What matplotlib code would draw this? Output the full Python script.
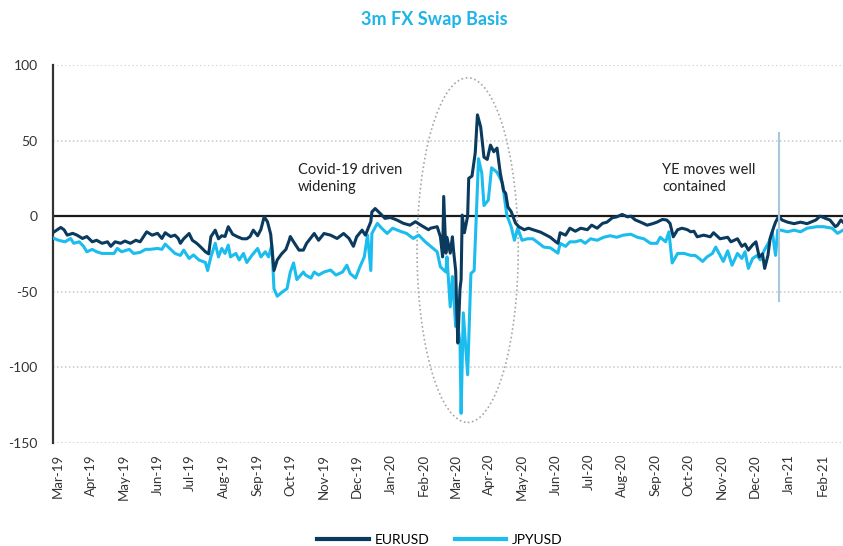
import pandas as pd
import matplotlib
matplotlib.use('Agg')
import matplotlib.pyplot as plt
import matplotlib.dates as mdates
from matplotlib.patches import Ellipse

plt.rcParams['font.family'] = ['Lato', 'DejaVu Sans']
plt.rcParams['axes.unicode_minus'] = False

# day offsets from 1 Mar 2019, values in bp
start = pd.Timestamp('2019-03-01')

eur_days = [-3, 3, 6, 9, 14, 18, 23, 27, 32, 36, 41, 46, 49, 53, 58, 62, 67, 72, 76, 82,
            87, 92, 96, 99, 104, 108, 111, 113, 116, 121, 124, 128, 131, 136, 139, 141, 145, 148, 151, 154,
            157, 161, 165, 170, 174, 177, 180, 184, 187, 190, 193, 196, 199, 202, 206, 210, 213, 214, 217, 222,
            226, 229, 236, 240, 245, 251, 257, 263, 268, 272, 275, 280, 283, 288, 289, 292, 297, 301, 306, 312,
            318, 324, 329, 334, 341, 343, 349, 352, 354, 355, 357, 358, 361, 363, 364, 366, 367, 368, 370, 371,
            372, 374, 377, 378, 381, 384, 386, 389, 392, 395, 398, 401, 404, 407, 410, 412, 414, 417, 421, 424,
            429, 433, 437, 444, 453, 458, 460, 462, 467, 471, 476, 481, 487, 491, 496, 501, 505, 510, 514, 519,
            524, 527, 531, 536, 542, 547, 551, 556, 560, 563, 566, 570, 574, 579, 582, 585, 588, 594, 600, 603,
            609, 616, 619, 625, 629, 632, 635, 639, 642, 645, 648, 650, 653, 655, 658, 660, 663, 666, 671, 677,
            683, 689, 697, 701, 706, 710, 715, 717, 720, 722]
eur_vals = [-10.4, -7.5, -9, -12.6, -11.4, -12.6, -14.8, -13.5, -17, -16, -18, -17, -20, -17, -18, -16.5, -18, -16, -17, -10.4,
            -12.6, -11.4, -14.8, -11, -13.5, -12.6, -14.8, -18, -15, -11.5, -16, -18, -20, -23.6, -25, -13.7, -9.3, -15, -13, -13.5,
            -7, -12, -13.5, -15, -15, -13.5, -9.3, -13, -8.8, -0.4, -3.7, -12, -36, -29, -25, -22, -16, -13.5, -17, -22.5,
            -22.5, -18, -11.5, -16, -11.5, -12.6, -14.8, -11.5, -14.8, -20, -13.7, -9.3, -12.6, -3.7, 2.8, 5, 1.5, -1.5, -0.9, -2.6,
            -4.8, -6, -3.7, -6, -9, -8, -7, -13.7, -27, 13, -24.5, -14, -24.5, -13.7, -22.5, -36, -62, -84, -48, -42,
            0.7, -11, 0, 25, 26.5, 42, 67, 59, 39, 37.5, 47, 42.6, 45, 28.5, 17, 15, 6, 3, -4.6, -7,
            -9, -8, -9, -10.6, -14, -17, -18, -11, -12.6, -8, -10, -8, -9, -6, -8, -4.8, -4, -1.1, -0.5, 1.1,
            -0.5, 0, -2.5, -4, -6, -5, -4, -2.2, -2.6, -4.8, -13.7, -9, -8, -9, -10.4, -10, -13.7, -12.6, -13.7, -11,
            -15, -14, -17, -15, -20, -18.5, -22.5, -19, -17, -27, -25, -34.6, -26, -15, -8, -4, 0, -2.6, -4, -5,
            -4, -5, -2.6, 0, -1.5, -2.6, -7, -6, -2.6, -4]

jpy_days = [-3, 1, 7, 12, 15, 20, 24, 27, 32, 36, 41, 46, 52, 55, 59, 66, 70, 76, 81, 85,
            92, 96, 99, 104, 108, 113, 116, 121, 125, 130, 136, 138, 141, 145, 148, 151, 154, 157, 159, 164,
            167, 171, 174, 179, 184, 187, 191, 194, 197, 199, 202, 207, 211, 214, 217, 220, 226, 228, 233, 236,
            240, 245, 251, 256, 262, 266, 269, 274, 278, 282, 285, 288, 289, 294, 298, 303, 308, 315, 321, 327,
            332, 338, 343, 349, 352, 357, 358, 361, 363, 366, 367, 370, 371, 373, 377, 380, 383, 387, 390, 392,
            396, 399, 404, 409, 413, 417, 420, 423, 427, 432, 437, 447, 453, 456, 460, 462, 467, 471, 476, 481,
            485, 490, 496, 502, 508, 514, 520, 527, 533, 539, 545, 551, 554, 559, 562, 565, 570, 576, 582, 586,
            588, 593, 597, 602, 605, 609, 612, 616, 620, 625, 629, 632, 635, 639, 643, 646, 649, 654, 657, 660,
            662, 665, 671, 677, 683, 689, 698, 704, 712, 717, 722]
jpy_vals = [-14.8, -16, -17, -14.8, -18, -17, -20, -23.6, -22, -23.6, -24.7, -24.7, -24.7, -21.4, -23.6, -22, -24.7, -24, -22, -22,
            -21.4, -22, -18.5, -22, -24.7, -26, -22.5, -28, -25.7, -29, -30.7, -36, -27, -18, -27, -21.4, -24.7, -19.2, -27, -24.7,
            -29, -24.7, -30.7, -25.7, -21.4, -27, -23.6, -27, -19.2, -48, -53, -50, -48, -37, -31, -42, -37, -39, -41, -37,
            -39, -37, -35.7, -39, -37, -32.5, -38, -41, -33.6, -27, -12.6, -36, -11.5, -4.8, -8, -11.5, -8, -10, -11.5, -14.8,
            -12.6, -17, -20, -23.6, -33.6, -37, -27, -60, -40, -73, -67, -84, -130.5, -64, -105, -38, -36, 38, 28.5, 7,
            10.6, 32, 29, 22, 0.7, -7, -16, -8, -16, -15, -15, -20.5, -21, -22.5, -24.5, -18, -20, -17, -17, -16,
            -18, -15, -16, -14, -13, -14, -12.6, -12, -14, -15, -18, -18, -14, -17, -10.4, -31, -24.7, -24.7, -26, -26,
            -27, -30, -27, -24.7, -20.5, -26, -30, -23, -32.5, -24.7, -28, -23.6, -34.6, -28, -26, -29, -23.6, -17, -10.4, -26,
            -9.3, -9.3, -10.4, -9.3, -10.4, -8, -7, -7, -8, -11.4, -9.3]

eur_dates = start + pd.to_timedelta(eur_days, unit='D')
jpy_dates = start + pd.to_timedelta(jpy_days, unit='D')

eur_color = '#0a3a5e'
jpy_color = '#1bbcee'

fig = plt.figure(figsize=(8.43, 5.46), dpi=100)
ax = fig.add_axes([0.063, 0.189, 0.937, 0.692])

ax.plot(eur_dates, eur_vals, color=eur_color, lw=2.2, label='EURUSD', zorder=4)
ax.plot(jpy_dates, jpy_vals, color=jpy_color, lw=2.2, label='JPYUSD', zorder=3)

ax.set_ylim(-150, 100)
ax.set_yticks([-150, -100, -50, 0, 50, 100])
ax.set_xlim(start - pd.Timedelta(days=4), start + pd.Timedelta(days=722))

for v in [-150, -100, -50, 50, 100]:
    ax.axhline(v, color='#c8c8c8', lw=1.1, ls=(0, (1, 1.6)), zorder=1)
ax.axhline(0, color='#1a1a1a', lw=1.6, zorder=2)

# year-end marker
ye = start + pd.Timedelta(days=663)
ax.plot([ye, ye], [55, -56], color='#a9c6dc', lw=1.5, zorder=5)

# covid ellipse
c = mdates.date2num(start + pd.Timedelta(days=377))
ax.add_patch(Ellipse((c, -22.5), width=93, height=228, fill=False,
                     edgecolor='#a6a6a6', lw=1.2, ls=(0, (1, 1.6)), zorder=2))

ax.text(start + pd.Timedelta(days=221), 35, 'Covid-19 driven\nwidening', fontsize=10.5,
        va='top', ha='left', color='#222222', linespacing=1.25)
ax.text(start + pd.Timedelta(days=556), 35, 'YE moves well\ncontained', fontsize=10.5,
        va='top', ha='left', color='#222222', linespacing=1.25)

ax.xaxis.set_major_locator(mdates.MonthLocator())
ax.xaxis.set_major_formatter(mdates.DateFormatter('%b-%y'))
plt.setp(ax.get_xticklabels(), rotation=90, fontsize=9.5, color='#333333')
plt.setp(ax.get_yticklabels(), fontsize=10, color='#333333')
ax.tick_params(axis='x', length=0, pad=8)
ax.tick_params(axis='y', length=0, pad=11)

for s in ['top', 'right', 'bottom']:
    ax.spines[s].set_visible(False)
ax.spines['left'].set_color('#333333')
ax.spines['left'].set_linewidth(1.6)

fig.suptitle('3m FX Swap Basis', x=0.515, y=0.98, fontsize=13, fontweight='bold', color='#1db4e8')

fig.legend(loc='lower center', bbox_to_anchor=(0.522, -0.022), ncol=2, frameon=False,
           fontsize=10, handlelength=3.7, handletextpad=0.45, columnspacing=1.8)
for line in fig.legends[0].get_lines():
    line.set_linewidth(3)

fig.savefig('out.png', dpi=100)
